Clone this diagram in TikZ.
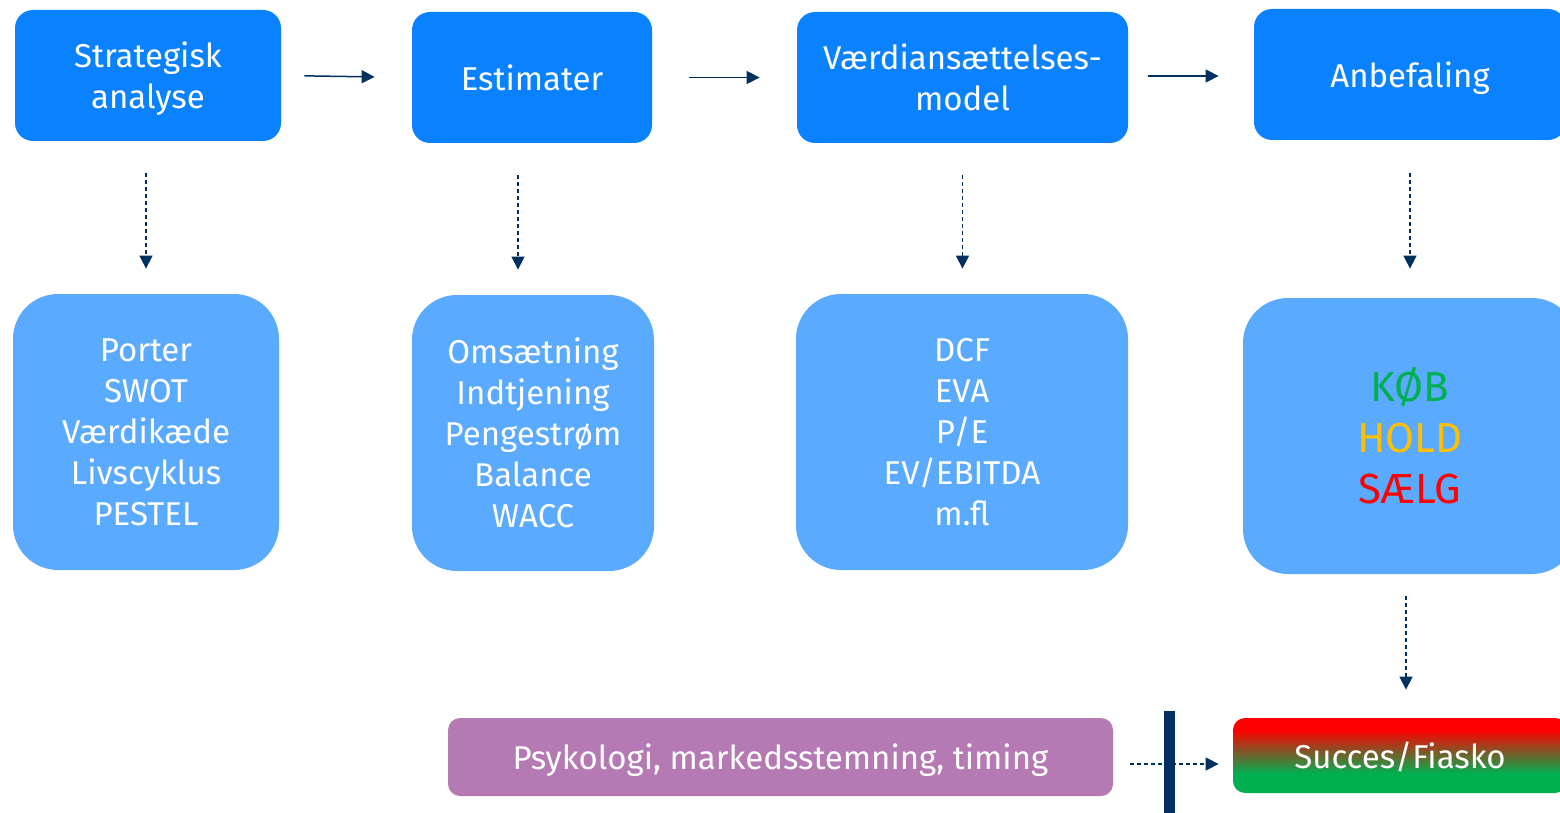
\documentclass[tikz,border=0pt]{standalone}
\usepackage{fontspec}
\setmainfont{Fira Sans}
\usetikzlibrary{arrows.meta}
\definecolor{topblue}{HTML}{0A82FF}
\definecolor{lightblue}{HTML}{5AAAFF}
\definecolor{purp}{HTML}{B57AB3}
\definecolor{navy}{HTML}{00305F}
\definecolor{kgreen}{HTML}{00B050}
\definecolor{kyellow}{HTML}{FFC000}
\definecolor{kred}{HTML}{FF0000}
\pgfdeclareverticalshading{redgreen}{100bp}{color(0bp)=(kgreen); color(38bp)=(kgreen); color(67bp)=(kred); color(100bp)=(kred)}
\tikzset{
  boxtext/.style={align=center, text=white, inner sep=0pt, font=\fontsize{16.5}{20.5}\selectfont},
  topbox/.style={boxtext, fill=topblue, rounded corners=9pt, minimum height=65.5pt},
  lowbox/.style={boxtext, fill=lightblue, rounded corners=22.5pt, minimum height=138pt},
  flow/.style={navy, line width=0.75pt, -{Triangle[length=6.5pt,width=6.5pt]}},
  dflow/.style={flow, dash pattern=on 2pt off 1.5pt},
}
\begin{document}
\begin{tikzpicture}[x=0.5pt, y=-0.5pt]
\useasboundingbox (0,0) rectangle (1560,813);
\clip (0,0) rectangle (1560,813);
% top row
\node[topbox, minimum width=133pt, text depth=0pt] (b1) at (148,75.5) {Strategisk\\analyse};
\node[topbox, minimum width=120pt] (b2) at (532,77.5) {Estimater};
\node[topbox, minimum width=165.5pt] (b3) at (962.5,77.5) {Værdiansættelses-\\model};
\node[topbox, minimum width=156pt, text depth=0pt] (b4) at (1410,74.5) {Anbefaling};
% lower row
\node[lowbox, minimum width=133pt] (l1) at (146,432) {Porter\\SWOT\\Værdikæde\\Livscyklus\\PESTEL};
\node[lowbox, minimum width=121pt] (l2) at (533,433) {Omsætning\\Indtjening\\Pengestrøm\\Balance\\WACC};
\node[lowbox, minimum width=166pt] (l3) at (962,432) {DCF\\EVA\\P/E\\EV/EBITDA\\m.fl};
\node[lowbox, minimum width=167pt, font=\fontsize{21}{25.5}\selectfont] (l4) at (1410,436)
  {\textcolor{kgreen}{KØB}\\\textcolor{kyellow}{HOLD}\\\textcolor{kred}{SÆLG}};
% bottom
\node[boxtext, fill=purp, rounded corners=6pt, minimum width=332.5pt, minimum height=39pt, text depth=0pt] (p) at (780.5,757) {Psykologi, markedsstemning, timing};
\path[rounded corners=6pt, shading=redgreen] (1233,718) rectangle (1567,793);
\node[boxtext, minimum width=167pt, minimum height=37.5pt, text depth=0pt] (res) at (1400,755.5) {Succes/Fiasko};
% horizontal arrows
\draw[flow, shorten <=11.5pt, shorten >=18.5pt] (b1.east) -- (b2.west);
\draw[flow, shorten <=18.5pt, shorten >=18.5pt] (b2.east) -- (b3.west);
\draw[flow, shorten <=10pt, shorten >=17.5pt] ([yshift=0.75pt]b3.east) -- ([yshift=0.75pt]b3.east -| b4.west);
% dashed down arrows
\draw[dflow, shorten <=16pt, shorten >=12.5pt] ([xshift=-1pt]b1.south) -- ([xshift=-1pt]b1.south |- l1.north);
\draw[dflow, shorten <=16pt, shorten >=12.5pt] ([xshift=-7pt]b2.south) -- ([xshift=-7pt]b2.south |- l2.north);
\draw[dflow, shorten <=16pt, shorten >=12.5pt] (b3.south) -- (b3.south |- l3.north);
\draw[dflow, shorten <=16.5pt, shorten >=14.5pt] (b4.south) -- (b4.south |- l4.north);
\draw[dflow, shorten <=11pt, shorten >=14pt] ([xshift=-2pt]l4.south) -- ([xshift=-2pt]l4.south |- res.north);
% dashed horizontal arrow and bar
\draw[dflow, shorten <=8.5pt, shorten >=7pt] ([yshift=-3.5pt]p.east) -- ([yshift=-3.5pt]p.east -| res.west);
\coordinate (bt) at (1169,711);
\coordinate (bb) at (1169,813);
\draw[navy, line width=5.5pt] (bt) -- (bb);
\end{tikzpicture}
\end{document}
